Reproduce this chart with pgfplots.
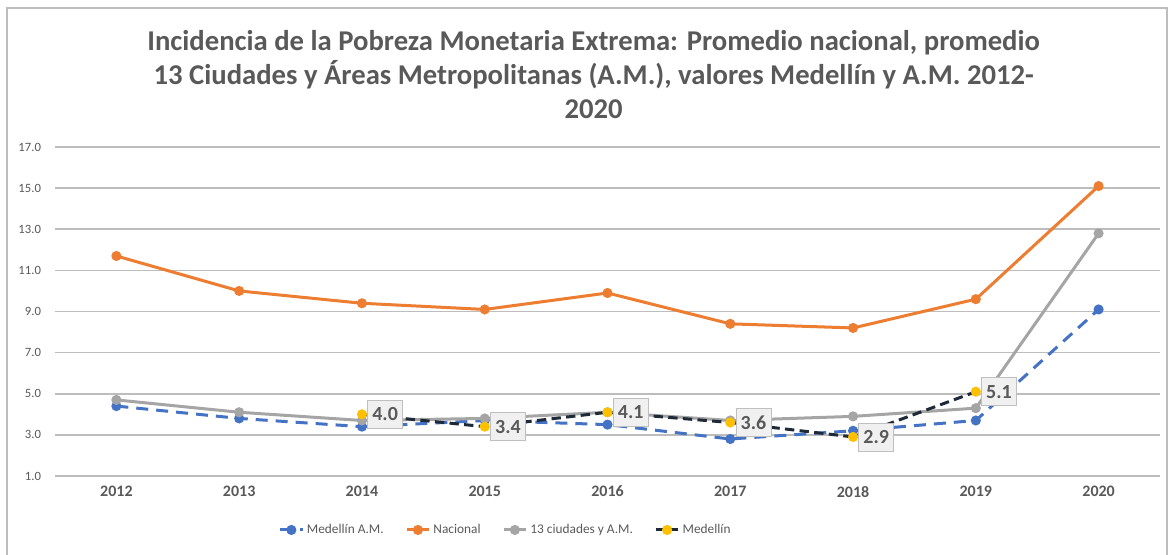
\documentclass[border=0pt]{standalone}
\usepackage{pgfplots}
\pgfplotsset{compat=1.18}
\usepackage{fontspec}
\setmainfont{Carlito}
\definecolor{cblue}{HTML}{4472C4}
\definecolor{corange}{HTML}{ED7D31}
\definecolor{cgray}{HTML}{A5A5A5}
\definecolor{cyel}{HTML}{FFC000}
\definecolor{cdark}{HTML}{1E2A38}
\definecolor{ctxt}{HTML}{595959}
\definecolor{cgrid}{HTML}{BDBDBD}
\begin{document}
\begin{tikzpicture}
\path[use as bounding box] (-41.25pt,-58.5pt) rectangle (835.5pt,357pt);
\draw[cgrid, line width=0.8pt] (-36pt,-62pt) rectangle (834pt,351pt);
\begin{axis}[
  at={(0,0)}, anchor=south west,
  scale only axis, width=828.75pt, height=246.75pt,
  xmin=-0.5, xmax=8.5, ymin=1, ymax=17,
  xtick={0,...,8},
  xticklabels={2012,2013,2014,2015,2016,2017,2018,2019,2020},
  ytick={1,3,...,17},
  yticklabel style={/pgf/number format/fixed, /pgf/number format/precision=1, /pgf/number format/fixed zerofill, /pgf/number format/assume math mode=true,
    font=\fontsize{9.5}{10}\selectfont, text=ctxt, xshift=-7pt},
  xticklabel style={font=\bfseries\fontsize{12}{13}\selectfont, text=ctxt, yshift=-4pt},
  axis line style={draw=none},
  major tick length=0pt,
  ymajorgrids, grid style={cgrid, line width=1.3pt},
  legend style={at={(0.408,-0.164)}, anchor=center, draw=none, fill=none,
    font=\fontsize{10}{12}\selectfont, text=ctxt, legend columns=4,
    /tikz/every even column/.append style={column sep=14pt}},
  legend cell align=left,
  clip=false,
]
\addplot[cblue, line width=2.25pt, dash pattern=on 9pt off 6pt, mark=*, mark size=2.6pt, mark options={solid, fill=cblue, draw=cblue}]
  coordinates {(0,4.4) (1,3.8) (2,3.4) (3,3.7) (4,3.5) (5,2.8) (6,3.2) (7,3.7) (8,9.1)};
\addlegendentry{Medellín A.M.}
\addplot[corange, line width=2.25pt, mark=*, mark size=2.6pt, mark options={fill=corange, draw=corange}]
  coordinates {(0,11.7) (1,10.0) (2,9.4) (3,9.1) (4,9.9) (5,8.4) (6,8.2) (7,9.6) (8,15.1)};
\addlegendentry{Nacional}
\addplot[cgray, line width=2.25pt, mark=*, mark size=2.6pt, mark options={fill=cgray, draw=cgray}]
  coordinates {(0,4.7) (1,4.1) (2,3.7) (3,3.8) (4,4.1) (5,3.7) (6,3.9) (7,4.3) (8,12.8)};
\addlegendentry{13 ciudades y A.M.}
\addplot[cdark, line width=2.25pt, dash pattern=on 7pt off 4pt, mark=*, mark size=2.6pt, mark options={solid, fill=cyel, draw=cyel},
  nodes near coords, point meta=explicit symbolic,
  every node near coord/.append style={anchor=west, xshift=4pt, fill=black!6, draw=black!25, line width=0.6pt,
    font=\bfseries\fontsize{15}{16}\selectfont, text=ctxt, inner sep=3.5pt, minimum height=21pt}]
  coordinates {(2,4.0)[4.0] (3,3.4)[3.4] (4,4.1)[4.1] (5,3.6)[3.6] (6,2.9)[2.9] (7,5.1)[5.1]};
\addlegendentry{Medellín}
\end{axis}
\node[align=center, font=\bfseries\fontsize{21.5}{25.5}\selectfont, text=ctxt] at (404pt,301pt)
  {Incidencia de la Pobreza Monetaria Extrema: Promedio nacional, promedio\\13 Ciudades y Áreas Metropolitanas (A.M.), valores Medellín y A.M. 2012-\\2020};
\end{tikzpicture}
\end{document}
